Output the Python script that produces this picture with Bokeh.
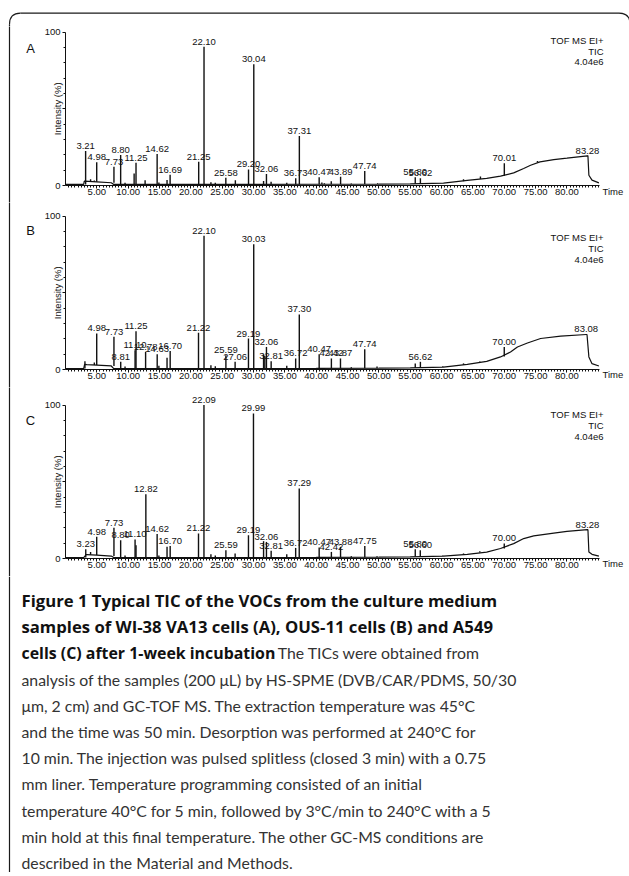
import numpy as np
from bokeh.plotting import figure
from bokeh.models import (Range1d, FixedTicker, PrintfTickFormatter, Label,
                          LabelSet, ColumnDataSource, Span)
from bokeh.layouts import column
from bokeh.embed import file_html
from bokeh.resources import INLINE
from bokeh.core.properties import value

# ---------------- axis ticks ----------------
x_major_ticks = [5, 10, 15, 20, 25, 30, 35, 40, 45, 50, 55, 60, 65, 70, 75, 80]
y_major_ticks = [0, 50, 100]
y_tick_labels = {0: "0", 50: "", 100: "100"}
info_lines = ["TOF MS EI+", "TIC", "4.04e6"]
panel_letters = ["A", "B", "C"]

# ---------------- panel A : WI-38 VA13 ----------------
a_base_time = [0, 2.9, 3.0, 5.0, 7.3, 7.7, 20, 40, 50, 55, 60.3, 64.1, 67.2, 69.4,
               71.5, 73.1, 74.2, 75.7, 77.9, 80.0, 83.25, 83.35, 83.5, 84.0, 85.1]
a_base_int = [0.7, 0.7, 2.8, 2.4, 1.8, 0.7, 0.7, 0.8, 0.9, 1.1, 1.6, 3.3, 4.6, 6.1,
              8.2, 11.1, 13.2, 15.4, 16.9, 17.8, 19.3, 19.3, 6.7, 3.5, 1.7]
a_peak_time = [3.21, 4.0, 4.6, 4.98, 7.73, 8.80, 9.5, 10.95, 11.25, 12.7, 14.62, 14.9,
               16.2, 16.69, 21.25, 22.10, 23.2, 23.9, 25.58, 27.1, 29.20, 30.04, 31.6,
               32.06, 32.8, 35.3, 36.73, 37.31, 40.47, 40.9, 41.3, 42.4, 43.89, 45.6,
               47.74, 49.8, 51.5, 55.80, 56.62, 63.5, 66.2, 70.01, 75.3, 83.28]
a_peak_top = [22.5, 4.0, 3.2, 15.1, 12.2, 19.9, 1.8, 7.8, 14.9, 3.5, 20.5, 2.0,
              3.6, 7.0, 15.5, 90.4, 2.2, 1.8, 5.1, 3.5, 10.5, 79.0, 3.0,
              7.5, 2.5, 1.8, 4.7, 32.2, 5.3, 2.0, 1.5, 2.8, 5.7, 1.3,
              9.4, 1.5, 1.0, 5.3, 4.7, 4.0, 5.8, 14.5, 16.0, 19.4]
a_peak_base = [0.7, 2.6, 2.5, 2.4, 1.8, 0.7, 0.7, 0.7, 0.7, 0.7, 0.7, 0.7,
               0.7, 0.7, 0.7, 0.7, 0.7, 0.7, 0.7, 0.7, 0.7, 0.7, 0.7,
               0.7, 0.7, 0.7, 0.7, 0.7, 0.8, 0.8, 0.8, 0.8, 0.8, 0.8,
               0.9, 0.9, 0.9, 1.1, 1.1, 2.8, 4.2, 6.4, 15.1, 19.3]
a_peak_label = ["3.21", "", "", "4.98", "7.73", "8.80", "", "", "11.25", "", "14.62", "",
                "", "16.69", "21.25", "22.10", "", "", "25.58", "", "29.20", "30.04", "",
                "32.06", "", "", "36.73", "37.31", "40.47", "", "", "", "43.89", "",
                "47.74", "", "", "55.80", "56.62", "", "", "70.01", "", "83.28"]

# ---------------- panel B : OUS-11 ----------------
b_base_time = [0, 2.9, 3.05, 3.4, 5.0, 7.3, 7.7, 20, 40, 50, 55, 60.3, 64.1, 67.2, 69.4,
               71.0, 72.1, 73.7, 75.8, 79.0, 83.1, 83.2, 83.5, 84.0, 85.1]
b_base_int = [0.6, 0.6, 3.3, 3.2, 2.9, 2.3, 0.6, 0.6, 0.7, 0.9, 1.1, 1.6, 3.4, 5.3, 8.2,
              11.4, 14.7, 17.3, 20.2, 21.7, 22.8, 22.8, 8.2, 3.8, 2.3]
b_peak_time = [3.1, 4.6, 4.98, 7.73, 8.81, 9.5, 11.10, 11.25, 12.78, 14.63, 14.9, 16.2,
               16.70, 21.22, 22.10, 23.2, 23.9, 25.59, 27.06, 29.19, 30.03, 31.6, 31.8,
               32.06, 32.81, 35.3, 36.72, 37.30, 40.47, 42.42, 43.87, 45.6, 47.74, 49.7,
               55.8, 56.62, 60.2, 63.5, 66.1, 70.00, 83.08]
b_peak_top = [5.3, 4.5, 23.5, 21.3, 5.0, 2.0, 12.6, 25.0, 11.5, 10.0, 2.5, 7.6,
              12.1, 23.9, 87.2, 2.8, 2.2, 9.3, 5.0, 20.2, 81.7, 9.8, 9.0,
              14.7, 5.4, 2.5, 7.2, 35.9, 10.0, 7.2, 7.2, 1.5, 13.2, 2.0,
              3.9, 5.0, 2.2, 4.0, 5.2, 14.7, 22.9]
b_peak_base = [0.6, 3.0, 2.9, 2.3, 0.6, 0.6, 0.6, 0.6, 0.6, 0.6, 0.6, 0.6,
               0.6, 0.6, 0.6, 0.6, 0.6, 0.6, 0.6, 0.6, 0.6, 0.6, 0.6,
               0.6, 0.6, 0.6, 0.6, 0.6, 0.7, 0.7, 0.7, 0.7, 0.8, 0.8,
               1.1, 1.1, 1.6, 3.0, 4.6, 8.4, 22.8]
b_peak_label = ["", "", "4.98", "7.73", "8.81", "", "11.10", "11.25", "12.78", "14.63", "", "",
                "16.70", "21.22", "22.10", "", "", "25.59", "27.06", "29.19", "30.03", "", "",
                "32.06", "32.81", "", "36.72", "37.30", "40.47", "42.42", "43.87", "", "47.74", "",
                "", "56.62", "", "", "", "70.00", "83.08"]

# ---------------- panel C : A549 ----------------
c_base_time = [0, 2.9, 3.3, 3.4, 5.0, 7.3, 7.7, 20, 40, 50, 55, 60.3, 64.1, 67.2, 69.4,
               71.5, 73.1, 74.7, 77.9, 80.0, 83.25, 83.35, 83.5, 84.0, 85.1]
c_base_int = [0.6, 0.6, 2.5, 2.5, 2.2, 1.6, 0.6, 0.6, 0.7, 0.9, 1.1, 1.6, 2.7, 4.2, 6.5,
              9.7, 13.0, 14.7, 16.6, 17.7, 18.8, 18.8, 4.2, 2.7, 1.6]
c_peak_time = [3.23, 4.0, 4.98, 7.73, 8.80, 9.5, 11.10, 11.25, 12.82, 14.62, 14.9, 16.2,
               16.70, 21.22, 22.09, 23.2, 23.9, 25.59, 27.06, 29.19, 29.99, 31.6, 32.06,
               32.81, 35.3, 36.72, 37.29, 40.47, 42.42, 43.88, 45.6, 47.75, 49.7, 55.80,
               56.60, 60.2, 63.5, 66.1, 70.00, 83.28]
c_peak_top = [6.1, 4.3, 14.1, 20.0, 11.9, 2.0, 12.4, 8.7, 41.9, 15.9, 2.0, 7.6,
              8.2, 16.3, 100.0, 2.8, 2.0, 5.4, 3.3, 15.2, 94.6, 11.3, 10.8,
              5.0, 2.8, 6.9, 45.7, 7.2, 4.3, 7.6, 1.5, 8.2, 1.5, 6.1,
              5.4, 2.0, 3.3, 4.8, 9.8, 18.9]
c_peak_base = [0.6, 2.4, 2.3, 1.7, 0.6, 0.6, 0.6, 0.6, 0.6, 0.6, 0.6, 0.6,
               0.6, 0.6, 0.6, 0.6, 0.6, 0.6, 0.6, 0.6, 0.6, 0.6, 0.6,
               0.6, 0.6, 0.6, 0.6, 0.7, 0.7, 0.7, 0.7, 0.8, 0.8, 1.1,
               1.1, 1.6, 2.6, 3.9, 6.5, 18.8]
c_peak_label = ["3.23", "", "4.98", "7.73", "8.80", "", "11.10", "", "12.82", "14.62", "", "",
                "16.70", "21.22", "22.09", "", "", "25.59", "", "29.19", "29.99", "", "32.06",
                "32.81", "", "36.72", "37.29", "40.47", "42.42", "43.88", "", "47.75", "", "55.80",
                "56.60", "", "", "", "70.00", "83.28"]

# ---------------- caption ----------------
caption_bold = ["Figure 1 Typical TIC of the VOCs from the culture medium",
                "samples of WI-38 VA13 cells (A), OUS-11 cells (B) and A549",
                "cells (C) after 1-week incubation"]
caption_tail = ". The TICs were obtained from"
caption_normal = ["analysis of the samples (200 \u03bcL) by HS-SPME (DVB/CAR/PDMS, 50/30",
                  "\u03bcm, 2 cm) and GC-TOF MS. The extraction temperature was 45\u00b0C",
                  "and the time was 50 min. Desorption was performed at 240\u00b0C for",
                  "10 min. The injection was pulsed splitless (closed 3 min) with a 0.75",
                  "mm liner. Temperature programming consisted of an initial",
                  "temperature 40\u00b0C for 5 min, followed by 3\u00b0C/min to 240\u00b0C with a 5",
                  "min hold at this final temperature. The other GC-MS conditions are",
                  "described in the Material and Methods."]

# ---------------- styling / layout constants ----------------
INK = "#111111"
FONT = "Liberation Sans"
FS = "9.5px"
PAGE_W = 629
PPU = 1.534          # pixels per % intensity
XPPU = 6.268         # pixels per minute
AXIS_X = 65          # page x of the time origin
TOP_H = 26
CAP_Y0 = 576
PAGE_H = 872
BORDER = "#1a1a1a"
BOX_X = 9


def strip(x0, x1, y0, y1):
    """Frame-only figure; data x = page x, data y = minus page y."""
    f = figure(width=int(x1 - x0), height=int(y1 - y0), title=None,
               x_range=Range1d(x0, x1), y_range=Range1d(-y1, -y0),
               toolbar_location=None, output_backend="svg",
               x_axis_location=None, y_axis_location=None,
               min_border=0, min_border_left=0, min_border_right=0,
               min_border_top=0, min_border_bottom=0)
    f.outline_line_color = None
    f.grid.visible = False
    f.background_fill_color = "white"
    f.border_fill_color = "white"
    return f


def panel(letter, base_t, base_i, pk_t, pk_top, pk_base, pk_lab,
          y0, y1, zero, letter_y, time_y, info_y):
    """Chromatogram panel covering page rows y0..y1; zero = page y of 0 %."""
    def px(X):
        return (X - AXIS_X) / XPPU

    def py(Y):
        return (zero - Y) / PPU

    p = figure(width=PAGE_W, height=y1 - y0, title=None,
               x_range=Range1d(px(0), px(PAGE_W)),
               y_range=Range1d(py(y1), py(y0)), toolbar_location=None,
               output_backend="svg", min_border=0, min_border_left=0,
               min_border_right=0, min_border_top=0, min_border_bottom=0)
    p.outline_line_color = None
    p.grid.visible = False
    p.background_fill_color = "white"
    p.border_fill_color = "white"

    # left edge of the rounded figure box
    p.line([px(BOX_X), px(BOX_X)], [py(y1 + 2), py(y0 - 2)],
           line_color=BORDER, line_width=1.2)

    p.line(base_t, base_i, line_color=INK, line_width=1.2)
    p.segment(x0=pk_t, y0=pk_base, x1=pk_t, y1=pk_top, line_color=INK, line_width=1.4)

    src = ColumnDataSource(dict(x=pk_t, y=pk_top, t=pk_lab))
    p.add_layout(LabelSet(x="x", y="y", text="t", source=src, text_align="center",
                          text_baseline="alphabetic", y_offset=2,
                          text_font=value(FONT), text_font_size=value(FS),
                          text_color=INK))

    xa = p.xaxis[0]
    xa.fixed_location = 0
    xa.ticker = FixedTicker(ticks=x_major_ticks,
                            minor_ticks=list(np.arange(0.5, 85.1, 0.5)))
    xa.formatter = PrintfTickFormatter(format="%.2f")
    xa.bounds = (0, 85.2)
    xa.major_tick_in = 0
    xa.major_tick_out = 3
    xa.minor_tick_in = 0
    xa.minor_tick_out = 2
    xa.major_label_standoff = 0

    ya = p.yaxis[0]
    ya.fixed_location = 0
    ya.ticker = FixedTicker(ticks=y_major_ticks,
                            minor_ticks=[10, 20, 30, 40, 60, 70, 80, 90])
    ya.major_label_overrides = y_tick_labels
    ya.bounds = (0, 100)
    ya.major_tick_in = 0
    ya.major_tick_out = 3
    ya.minor_tick_in = 0
    ya.minor_tick_out = 2
    ya.major_label_standoff = 2

    for a in (xa, ya):
        a.axis_line_color = INK
        a.major_tick_line_color = INK
        a.minor_tick_line_color = INK
        a.major_label_text_font = FONT
        a.major_label_text_font_size = FS
        a.major_label_text_color = INK

    p.add_layout(Label(x=px(30), y=py(letter_y), text=letter, text_align="center",
                       text_baseline="middle", text_font=FONT,
                       text_font_size="13px", text_color=INK))
    p.add_layout(Label(x=px(57), y=50, text="Intensity (%)", angle=np.pi / 2,
                       text_align="center", text_baseline="middle",
                       text_font=FONT, text_font_size=FS, text_color=INK))
    p.add_layout(Label(x=px(602), y=py(time_y), text="Time", text_align="left",
                       text_baseline="middle", text_font=FONT, text_font_size=FS,
                       text_color=INK))
    for txt, yy in zip(info_lines, info_y):
        p.add_layout(Label(x=px(603), y=py(yy), text=txt, text_align="right",
                           text_baseline="middle", text_font=FONT,
                           text_font_size=FS, text_color=INK))
    return p


pa = panel(panel_letters[0], a_base_time, a_base_int, a_peak_time, a_peak_top,
           a_peak_base, a_peak_label, TOP_H, 202, 185, 47.5, 190.5, [40, 50.5, 61.7])
pb = panel(panel_letters[1], b_base_time, b_base_int, b_peak_time, b_peak_top,
           b_peak_base, b_peak_label, 202, 387, 369, 230, 374.3, [236.7, 248.3, 259.3])
pc = panel(panel_letters[2], c_base_time, c_base_int, c_peak_time, c_peak_top,
           c_peak_base, c_peak_label, 387, CAP_Y0, 558, 420, 563.3, [414, 425, 436])

# top strip: upper edge of the rounded figure box
top = strip(0, PAGE_W, 0, TOP_H)
top.line([20, 618.5], [-12.7, -12.7], line_color=BORDER, line_width=1.2)
top.line([BOX_X, BOX_X], [-23.7, -TOP_H], line_color=BORDER, line_width=1.2)
top.quadratic(x0=[BOX_X, 618.5], y0=[-23.7, -12.7], x1=[20, 629.5], y1=[-12.7, -23.7],
              cx=[BOX_X, 629.5], cy=[-12.7, -12.7], line_color=BORDER, line_width=1.2)

# caption
cap = strip(0, PAGE_W, CAP_Y0, PAGE_H)
cap.add_layout(Span(location=BOX_X, dimension="height", line_color=BORDER, line_width=1.2))
X0 = 21
Y0 = 600.0
LH = 26.2
cap.text(x=[X0] * 2, y=[-Y0, -(Y0 + LH)], text=caption_bold[:2],
         text_font=value("Open Sans"), text_font_size=value("16.7px"),
         text_font_style="bold", text_color="#111111", text_baseline="alphabetic")
cap.text(x=[X0], y=[-(Y0 + LH * 2)], text=caption_bold[2:],
         text_font=value("Open Sans"), text_font_size=value("15.9px"),
         text_font_style="bold", text_color="#111111", text_baseline="alphabetic")
cap.text(x=[270], y=[-(Y0 + LH * 2)], text=[caption_tail],
         text_font=value("Lato"), text_font_size=value("15.8px"),
         text_color="#333333", text_baseline="alphabetic")
cap.text(x=[X0] * len(caption_normal),
         y=[-(Y0 + LH * (i + 3)) for i in range(len(caption_normal))],
         text=caption_normal, text_font=value("Lato"),
         text_font_size=value("15.8px"), text_color="#333333",
         text_baseline="alphabetic")

layout = column(top, pa, pb, pc, cap, spacing=0)

open("out.html", "w").write(file_html(layout, INLINE))
